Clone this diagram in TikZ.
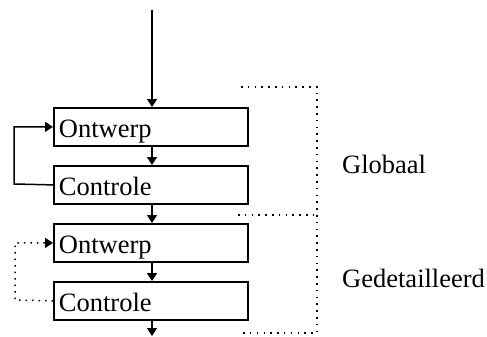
\documentclass[tikz,border=0pt]{standalone}
\usepackage{fontspec}
\setmainfont{Liberation Serif}
\usetikzlibrary{arrows.meta}
\begin{document}
\begin{tikzpicture}[x=1pt,y=-1pt,
  every node/.style={font=\fontsize{26.5}{30}\selectfont},
  stagebox/.style={draw, line width=1.8pt, minimum width=194pt, minimum height=38pt,
    text width=184pt, inner xsep=5pt, inner ysep=0pt, align=left,
    text height=22pt, text depth=0pt, anchor=north west},
  flow/.style={line width=1.5pt, -{Triangle[length=8pt,width=10pt]}},
  dotflow/.style={line width=1.5pt, dash pattern=on 1.5pt off 5pt, -{Triangle[length=8pt,width=10pt]}},
  bracket/.style={line width=1.5pt, dash pattern=on 1.5pt off 5.3pt}]
\useasboundingbox (0,0) rectangle (487,337);
\node[stagebox] (o1) at (53,107) {Ontwerp};
\node[stagebox] (c1) at (53,165) {Controle};
\node[stagebox] (o2) at (53,223) {Ontwerp};
\node[stagebox] (c2) at (53,281) {Controle};
\coordinate (top) at (152,10);
\coordinate (bot) at (152,336);
\draw[flow] (top) -- (top |- o1.north);
\draw[flow] (top |- o1.south) -- (top |- c1.north);
\draw[flow] (top |- c1.south) -- (top |- o2.north);
\draw[flow] (top |- o2.south) -- (top |- c2.north);
\draw[flow] (top |- c2.south) -- (bot);
\draw[flow] (c1.west) -- (14,184) |- (o1.west);
\draw[dotflow] (c2.west) -- (15,300) |- (o2.west);
\coordinate (b1) at (241,87);
\coordinate (b2) at (317,87);
\coordinate (b3) at (317,333);
\coordinate (b4) at (241,333);
\coordinate (m1) at (238,215);
\coordinate (m2) at (317,215);
\draw[bracket] (b1) -- (b2) -- (b3) -- (b4);
\draw[bracket] (m1) -- (m2);
\node[anchor=base west, inner sep=0pt] (glob) at (342,173) {Globaal};
\node[anchor=base west, inner sep=0pt] (ged) at (342,287) {Gedetailleerd};
\end{tikzpicture}
\end{document}
